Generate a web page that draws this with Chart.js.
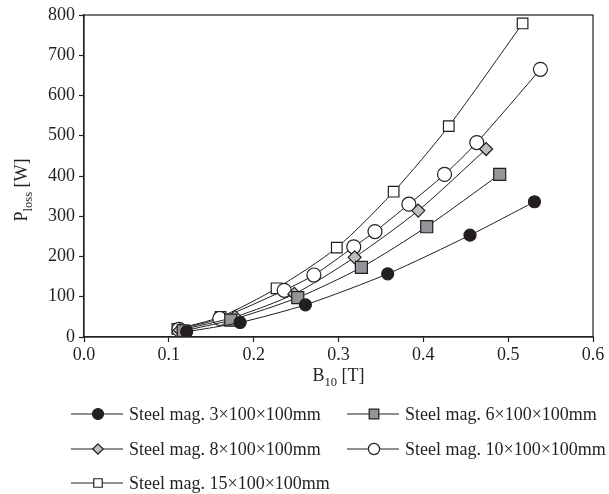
<!DOCTYPE html>
<html>
<head>
<meta charset="utf-8">
<script src="https://cdn.jsdelivr.net/npm/chart.js"></script>
<style>
  body { margin: 0; background: #fff; }
  #wrap { width: 609px; height: 494px; }
</style>
</head>
<body>
<div id="wrap"><canvas id="grafico" width="609" height="494"></canvas></div>
<script>
// dados (B10 em T, Ploss em W)
const b3 = [0.121, 0.184, 0.261, 0.358, 0.455, 0.531];
const p3 = [13, 36, 80, 157, 253, 336];

const b6 = [0.117, 0.173, 0.252, 0.327, 0.404, 0.490];
const p6 = [15, 42, 98, 173, 274, 404];

const b8 = [0.113, 0.178, 0.248, 0.319, 0.394, 0.474];
const p8 = [17, 50, 107, 198, 314, 467];

const b10 = [0.112, 0.160, 0.236, 0.271, 0.318, 0.343, 0.383, 0.425, 0.463, 0.538];
const p10 = [19, 46, 116, 154, 224, 262, 330, 404, 483, 665];

const b15 = [0.110, 0.161, 0.227, 0.298, 0.365, 0.430, 0.517];
const p15 = [20, 50, 121, 222, 361, 524, 779];

const legendas = [
    'Steel mag. 3×100×100mm',
    'Steel mag. 6×100×100mm',
    'Steel mag. 8×100×100mm',
    'Steel mag. 10×100×100mm',
    'Steel mag. 15×100×100mm'
];

const xTicks = [0, 0.1, 0.2, 0.3, 0.4, 0.5, 0.6];
const yTicks = [0, 100, 200, 300, 400, 500, 600, 700, 800];

const escuro = '#231f20';
const fonte = '"Liberation Serif", "DejaVu Serif", serif';

function pontos(bs, ps) {
    return bs.map((b, i) => ({ x: b, y: ps[i] }));
}

function serie(label, bs, ps, estilo, fundo, raio) {
    return {
        label: label,
        data: pontos(bs, ps),
        showLine: true,
        tension: 0.25,
        borderColor: escuro,
        borderWidth: 1,
        pointStyle: estilo,
        pointRadius: raio,
        pointHoverRadius: raio,
        pointBackgroundColor: fundo,
        pointBorderColor: escuro,
        pointBorderWidth: 1.2
    };
}

// desenha um marcador simples (legenda)
function marcador(ctx, estilo, x, y, r, fundo) {
    ctx.save();
    ctx.beginPath();
    if (estilo === 'circle') {
        ctx.arc(x, y, r, 0, Math.PI * 2);
    } else if (estilo === 'rect') {
        const s = Math.SQRT1_2 * r;
        ctx.rect(x - s, y - s, 2 * s, 2 * s);
    } else if (estilo === 'rectRot') {
        ctx.moveTo(x, y - r);
        ctx.lineTo(x + r, y);
        ctx.lineTo(x, y + r);
        ctx.lineTo(x - r, y);
        ctx.closePath();
    }
    ctx.fillStyle = fundo;
    ctx.fill();
    ctx.lineWidth = 1.2;
    ctx.strokeStyle = escuro;
    ctx.stroke();
    ctx.restore();
}

// texto com subscrito
function textoSub(ctx, partes, x, y, tam) {
    let total = 0;
    partes.forEach(p => {
        ctx.font = (p.sub ? tam * 0.7 : tam) + 'px ' + fonte;
        p.w = ctx.measureText(p.t).width;
        total += p.w;
    });
    let cx = x - total / 2;
    partes.forEach(p => {
        ctx.font = (p.sub ? tam * 0.7 : tam) + 'px ' + fonte;
        ctx.fillText(p.t, cx, y + (p.sub ? tam * 0.28 : 0));
        cx += p.w;
    });
}

const moldura = {
    id: 'moldura',
    afterDraw(chart) {
        const ctx = chart.ctx;
        const a = chart.chartArea;
        ctx.save();
        ctx.strokeStyle = escuro;
        ctx.lineWidth = 1.2;
        ctx.strokeRect(a.left, a.top, a.right - a.left, a.bottom - a.top);

        ctx.fillStyle = escuro;
        ctx.textBaseline = 'alphabetic';
        ctx.textAlign = 'left';

        // título do eixo x
        textoSub(ctx, [{ t: 'B' }, { t: '10', sub: true }, { t: ' [T]' }], (a.left + a.right) / 2, 381, 18);

        // título do eixo y
        ctx.save();
        ctx.translate(27, 190);
        ctx.rotate(-Math.PI / 2);
        textoSub(ctx, [{ t: 'P' }, { t: 'loss', sub: true }, { t: ' [W]' }], 0, 0, 18);
        ctx.restore();

        // legenda em duas colunas (marcadores um pouco menores)
        const colX = [71, 347];
        const linhaY = [414, 449, 483];
        chart.data.datasets.forEach((ds, i) => {
            const x0 = colX[i % 2];
            const y0 = linhaY[Math.floor(i / 2)];
            ctx.beginPath();
            ctx.moveTo(x0, y0);
            ctx.lineTo(x0 + 52, y0);
            ctx.lineWidth = 1;
            ctx.strokeStyle = escuro;
            ctx.stroke();
            const r = ds.pointStyle === 'circle' && ds.pointBackgroundColor === escuro
                ? ds.pointRadius * 0.92 : ds.pointRadius * 0.8;
            marcador(ctx, ds.pointStyle, x0 + 27, y0, r, ds.pointBackgroundColor);
            ctx.font = '18px ' + fonte;
            ctx.fillStyle = escuro;
            ctx.textBaseline = 'middle';
            ctx.fillText(ds.label, x0 + 58, y0 + 1);
        });
        ctx.restore();
    }
};

new Chart(document.getElementById('grafico'), {
    type: 'scatter',
    data: {
        datasets: [
            serie(legendas[0], b3, p3, 'circle', escuro, 6),
            serie(legendas[1], b6, p6, 'rect', '#939598', 8.5),
            serie(legendas[2], b8, p8, 'rectRot', '#bcbec0', 6.5),
            serie(legendas[3], b10, p10, 'circle', '#ffffff', 7),
            serie(legendas[4], b15, p15, 'rect', '#ffffff', 7.5)
        ]
    },
    options: {
        responsive: false,
        animation: false,
        layout: { padding: { top: 15, right: 16, bottom: 0, left: 0 } },
        plugins: {
            legend: { display: false },
            tooltip: { enabled: false }
        },
        scales: {
            x: {
                type: 'linear',
                min: xTicks[0],
                max: xTicks[xTicks.length - 1],
                afterBuildTicks: s => { s.ticks = xTicks.map(v => ({ value: v })); },
                afterFit: s => { s.height = 157; },
                grid: { drawOnChartArea: false, drawTicks: true, tickLength: 5, tickColor: escuro, tickWidth: 1.2 },
                border: { display: true, color: escuro, width: 1.2 },
                ticks: {
                    color: escuro,
                    padding: 2,
                    font: { family: fonte, size: 18 },
                    callback: v => Number(v).toFixed(1)
                }
            },
            y: {
                type: 'linear',
                min: yTicks[0],
                max: yTicks[yTicks.length - 1],
                afterBuildTicks: s => { s.ticks = yTicks.map(v => ({ value: v })); },
                afterFit: s => { s.width = 84; },
                grid: { drawOnChartArea: false, drawTicks: true, tickLength: 5, tickColor: escuro, tickWidth: 1.2 },
                border: { display: true, color: escuro, width: 1.2 },
                ticks: {
                    color: escuro,
                    padding: 4,
                    font: { family: fonte, size: 18 }
                }
            }
        }
    },
    plugins: [moldura]
});
</script>
</body>
</html>
